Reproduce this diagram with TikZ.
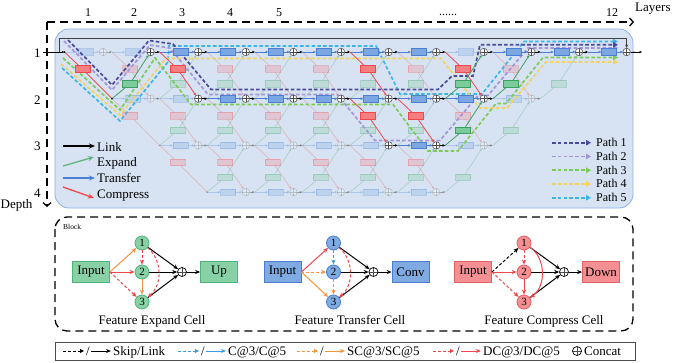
\documentclass[tikz,border=0pt]{standalone}
\usepackage{fontspec}
\setmainfont{Liberation Serif}
\usetikzlibrary{arrows.meta,calc,positioning}

\definecolor{tblue}{HTML}{4A7FD4}
\definecolor{tfill}{HTML}{7DA7E2}
\definecolor{cred}{HTML}{F0474A}
\definecolor{cfill}{HTML}{F47E80}
\definecolor{egreen}{HTML}{3E9F62}
\definecolor{efill}{HTML}{7CCB9A}
\definecolor{panelfill}{HTML}{D7E3F2}
\definecolor{paneldraw}{HTML}{8EB1E3}
\definecolor{pone}{HTML}{4A4A9C}
\definecolor{ptwo}{HTML}{A596D8}
\definecolor{pthree}{HTML}{7CCB57}
\definecolor{pfour}{HTML}{F3D35F}
\definecolor{pfive}{HTML}{3EB5E5}
\definecolor{sorange}{HTML}{F7923A}
\definecolor{lblue}{HTML}{3E9CE0}
\definecolor{xgfill}{HTML}{88D1A6}
\definecolor{xgdraw}{HTML}{52B27A}
\definecolor{xbfill}{HTML}{80AAE2}
\definecolor{xbdraw}{HTML}{4C7BCB}
\definecolor{xrfill}{HTML}{F49093}
\definecolor{xrdraw}{HTML}{E35F62}

% transfer / compress / expand out of dot (layer, depth)
\newcommand{\trn}[2]{%
  \pgfmathtruncatemacro\tk{#1+1}%
  \node[tbox] (tb-#1-#2) at ($(o-#1-#2)+(21,0)$) {};
  \draw[tline] (o-#1-#2) -- (tb-#1-#2);
  \draw[tline,shorten >=3.8pt] (tb-#1-#2) -- (c-\tk-#2);}
\newcommand{\cmp}[2]{%
  \pgfmathtruncatemacro\ck{#1+1}\pgfmathtruncatemacro\cd{#2+1}%
  \node[cbox] (cb-#1-#2) at ($(o-#1-#2)+(18,17)$) {};
  \draw[cline] (o-#1-#2) -- (cb-#1-#2);
  \ifnum\ck=#2\relax
    \draw[cline] (cb-#1-#2) -- (o-\ck-\cd);
  \else
    \draw[cline,tip,shorten >=3.8pt] (cb-#1-#2) -- (c-\ck-\cd);
  \fi}
\newcommand{\epd}[2]{%
  \pgfmathtruncatemacro\ek{#1+1}\pgfmathtruncatemacro\ed{#2-1}%
  \node[ebox] (eb-#1-#2) at ($(o-#1-#2)+(18,-15)$) {};
  \draw[eline] (o-#1-#2) -- (eb-#1-#2);
  \draw[eline,tip,shorten >=3.8pt] (eb-#1-#2) -- (c-\ek-\ed);}
% concat of cell and its link
\newcommand{\lnk}[2]{%
  \node[cat] (n-#1-#2) at (c-#1-#2) {};
  \draw[lkline] (n-#1-#2) -- (o-#1-#2);}
% the three nodes of a block cell
\newcommand{\cellnodes}[5]{%
  \node[cellbox,fill=#3,draw=#4] (#1in) at (#2,272) {Input};
  \node[unit,fill=#3,draw=#4] (#1u1) at (#2+51,243) {1};
  \node[unit,fill=#3,draw=#4] (#1u2) at (#2+51,272) {2};
  \node[unit,fill=#3,draw=#4] (#1u3) at (#2+51,302) {3};
  \node[ccat] (#1cat) at (#2+91,272) {};
  \node[cellbox,fill=#3,draw=#4] (#1out) at (#2+128,272) {#5};
  \foreach \uu in {u1,u2,u3} \draw[carrow] (#1\uu) -- (#1cat);
  \draw[carrow] (#1cat) -- (#1out);}
\newcommand{\legitem}[3]{%
  \draw[#2,line width=1pt,dsh,-{Triangle[length=4pt,width=4pt]}] (#1,351) -- ++(21,0);
  \node[anchor=base] at (#1+25,355) {/};
  \draw[#2,line width=1pt,-{Stealth[length=5pt,width=4pt]}] (#1+28,351) -- ++(20,0);
  \node[anchor=base west] at (#1+50,355) {#3};}

\begin{document}
\begin{tikzpicture}[x=1pt,y=-1pt,inner sep=0pt,font=\fontsize{13}{15}\selectfont,
  cat/.style={circle,draw=black!70,fill=white,minimum size=7.5pt,inner sep=0pt,line width=0.5pt,
    path picture={\draw[black!70,line width=0.5pt]
      (path picture bounding box.north) -- (path picture bounding box.south)
      (path picture bounding box.west) -- (path picture bounding box.east);}},
  ccat/.style={cat,draw=black,minimum size=9pt,line width=0.7pt},
  gbox/.style={minimum width=15pt,minimum height=6.5pt,inner sep=0pt,line width=0.6pt},
  tbox/.style={gbox,draw=tblue,fill=tfill},
  cbox/.style={gbox,draw=cred,fill=cfill},
  ebox/.style={gbox,draw=egreen,fill=efill},
  tip/.style={-{Stealth[length=2.8pt,width=2.4pt]}},
  tline/.style={tblue,line width=0.7pt,tip},
  cline/.style={cred,line width=0.7pt},
  eline/.style={egreen,line width=0.7pt},
  lkline/.style={black,line width=0.7pt,tip},
  skipline/.style={black!75,line width=0.9pt,-{Stealth[length=3.5pt,width=3pt]}},
  pth/.style={line width=1.7pt,dash pattern=on 3.6pt off 2.2pt,-{Triangle[length=5pt,width=5.5pt]}},
  axis/.style={line width=1.3pt,dash pattern=on 8pt off 5pt,-{Straight Barb[length=3.5pt,width=8pt]}},
  legarrow/.style={line width=1.3pt,-{Stealth[length=6pt,width=5pt]}},
  cellbox/.style={draw,minimum width=37pt,minimum height=21pt,inner sep=1pt,line width=0.8pt},
  unit/.style={circle,draw,minimum size=14pt,inner sep=0pt,line width=0.8pt,font=\fontsize{11}{12}\selectfont},
  carrow/.style={line width=1pt,-{Stealth[length=5pt,width=4.2pt]}},
  dsh/.style={dash pattern=on 3pt off 2pt},
  small/.style={font=\fontsize{12}{14}\selectfont}]

\useasboundingbox (0,0) rectangle (673,362);

% axes
\coordinate (ax0) at (47,22);
\coordinate (axL) at (634,22);
\coordinate (axD) at (47,207);
\draw[axis] (ax0) -- (axL);
\draw[axis] (ax0) -- (axD);
\node[anchor=base west] (lay) at (635,11) {Layers};
\node[anchor=base west] (dep) at (0.5,208) {Depth};
\foreach \k/\x in {1/88,2/134,3/182,4/230,5/279,12/612}
  \node[small,anchor=base] (l\k) at (\x,16) {\k};
\node[small,anchor=base] (ldots) at (448,15) {......};
\foreach \d in {1,...,4}
  \node[anchor=base] (d\d) at (37.5,5.3+46.7*\d+5.5) {\d};

% search space panel
\draw[paneldraw,fill=panelfill,line width=0.8pt,rounded corners=14pt] (55,29) rectangle (633,208);

\foreach \d/\e in {1/12,2/10,3/9,4/8}{
  \pgfmathtruncatemacro\s{\d-1}
  \foreach \k in {\s,...,\e}{
    \coordinate (c-\k-\d) at (55.4+47.6*\k,5.3+46.7*\d);
    \coordinate (o-\k-\d) at (64.4+47.6*\k,5.3+46.7*\d);
  }
}

% faded network
\begin{scope}[opacity=0.28]
\foreach \d/\e/\f/\g in {1/12/10/0,2/10/9/12,3/9/8/10,4/8/0/9}{
  \pgfmathtruncatemacro\s{\d-1}
  \foreach \k in {\s,...,\e}{
    \pgfmathtruncatemacro\nk{\k+1}
    \ifnum\k>\s \lnk{\k}{\d}\else \fill (o-\k-\d) circle (0.9pt);\fi
    \ifnum\nk>\e \else \trn{\k}{\d}\fi
    \ifnum\nk>\f \else \cmp{\k}{\d}\fi
    \ifnum\g>0 \ifnum\nk>\g \else \epd{\k}{\d}\fi\fi
  }
}
\end{scope}

% paths
\draw[pth,pfive] (62,68) -- (120,121) -- (168,62) -- (169,46) -- (376,46) -- (400,94)
  -- (482,94) -- (524,41.5) -- (618,41.5);
\draw[pth,pfour] (61,64) -- (120,115) -- (166,58.5) -- (441,58.5) -- (480,108)
  -- (507,108) -- (546,62) -- (618,62);
\draw[pth,pthree] (63,58) -- (120,110) -- (155,58) -- (191,104.5) -- (393,104.5)
  -- (428,151) -- (458,151) -- (496,103.5) -- (506,103.5) -- (543,57.5) -- (618,57.5);
\draw[pth,ptwo] (64,41) -- (112,90) -- (150,45) -- (170,48) -- (208,94.5) -- (337,94.5)
  -- (375,140.5) -- (440,140.5) -- (478,95.5) -- (488,95.5) -- (528,48) -- (618,48);
\draw[pth,pone] (68,40) -- (112,85) -- (149,40.5) -- (173,44) -- (211,89.5) -- (438,89.5)
  -- (452,76) -- (473,76) -- (480,44.8) -- (618,44.8);

% chosen network
\foreach \k in {2,3,4,5,6,7,9,10,11} {\trn{\k}{1}}
\foreach \k in {3,4,5,6,7,8} {\trn{\k}{2}}
\trn{7}{3}
\foreach \k/\d in {0/1,2/1,6/1,8/1,6/2,7/2} {\cmp{\k}{\d}}
\foreach \k/\d in {1/2,8/2,9/2,8/3} {\epd{\k}{\d}}
\foreach \k in {2,...,11} {\lnk{\k}{1}}
\foreach \k in {3,...,9} {\lnk{\k}{2}}
\foreach \k in {7,8} {\lnk{\k}{3}}
\node[cat] (n-12-1) at (c-12-1) {};
\coordinate (out) at (642,52);
\draw[lkline] (n-12-1) -- (out);
\fill (o-0-1) circle (0.9pt) (o-1-2) circle (0.9pt);
\coordinate (inlet) at (43,52);
\draw[lkline] (inlet) -- (o-0-1);
\coordinate (sk) at (59.5,52);
\draw[skipline] (sk) |- ($(c-12-1)+(0,-13.5)$) -- (n-12-1);

% op legend
\draw[legarrow,black] (63,146) -- (95,146);
\draw[legarrow,egreen!80] (63,166) -- (94,157);
\draw[legarrow,tblue] (63,178) -- (95,178);
\draw[legarrow,cred] (63,187) -- (94,198);
\node[anchor=base west] at (97,151) {Link};
\node[anchor=base west] at (97,166) {Expand};
\node[anchor=base west] at (97,182) {Transfer};
\node[anchor=base west] at (97,198) {Compress};

% path legend
\foreach \c [count=\i] in {pone,ptwo,pthree,pfour,pfive}{
  \draw[pth,\c] (552,128.95+13.75*\i) -- (591,128.95+13.75*\i);
  \node[small,anchor=base west] at (596,132.95+13.75*\i) {Path \i};
}

% block
\draw[line width=1.3pt,dash pattern=on 8pt off 5pt,rounded corners=12pt] (55,217) rectangle (633,331);
\node[font=\fontsize{7.5}{9}\selectfont,anchor=base west] (blk) at (63,229) {Block};

\cellnodes{x}{91}{xgfill}{xgdraw}{Up}
\draw[carrow,sorange] (xin.east) -- (xu1);
\draw[carrow,cred] (xin.east) -- (xu2);
\draw[carrow,cred,dsh] (xin.east) -- (xu3);
\draw[carrow,cred,dsh] (xu1) -- (xu2);
\draw[carrow,sorange] (xu2) -- (xu3);
\draw[carrow,cred,dsh] (xu1) to[bend left=50] (xu3);
\node[anchor=base] (xcap) at (152,324) {Feature Expand Cell};

\cellnodes{t}{282.5}{xbfill}{xbdraw}{Conv}
\draw[carrow,cred] (tin.east) -- (tu1);
\draw[carrow,sorange,dsh] (tin.east) -- (tu2);
\draw[carrow,sorange] (tin.east) -- (tu3);
\draw[carrow,lblue,dsh] (tu1) -- (tu2);
\draw[carrow,sorange,dsh] (tu2) -- (tu3);
\draw[carrow,cred,dsh] (tu1) to[bend left=50] (tu3);
\node[anchor=base] (tcap) at (350,324) {Feature Transfer Cell};

\cellnodes{p}{473}{xrfill}{xrdraw}{Down}
\draw[carrow,black,dsh] (pin.east) -- (pu1);
\draw[carrow,cred] (pin.east) -- (pu2);
\draw[carrow,cred,dsh] (pin.east) -- (pu3);
\draw[carrow,cred,dsh] (pu1) -- (pu2);
\draw[carrow,cred] (pu2) -- (pu3);
\draw[carrow,cred] (pu1) to[bend left=55] (pu3);
\node[anchor=base] (pcap) at (544,324) {Feature Compress Cell};

% edge legend
\draw[black!70,line width=0.8pt] (55,342) rectangle (635,360.5);
\legitem{63}{black}{Skip/Link}
\legitem{178}{lblue}{C@3/C@5}
\legitem{297}{sorange}{SC@3/SC@5}
\legitem{433}{cred}{DC@3/DC@5}
\node[ccat] (lcat) at (577,351) {};
\node[anchor=base west] (lcon) at (584,355) {Concat};
\end{tikzpicture}
\end{document}
